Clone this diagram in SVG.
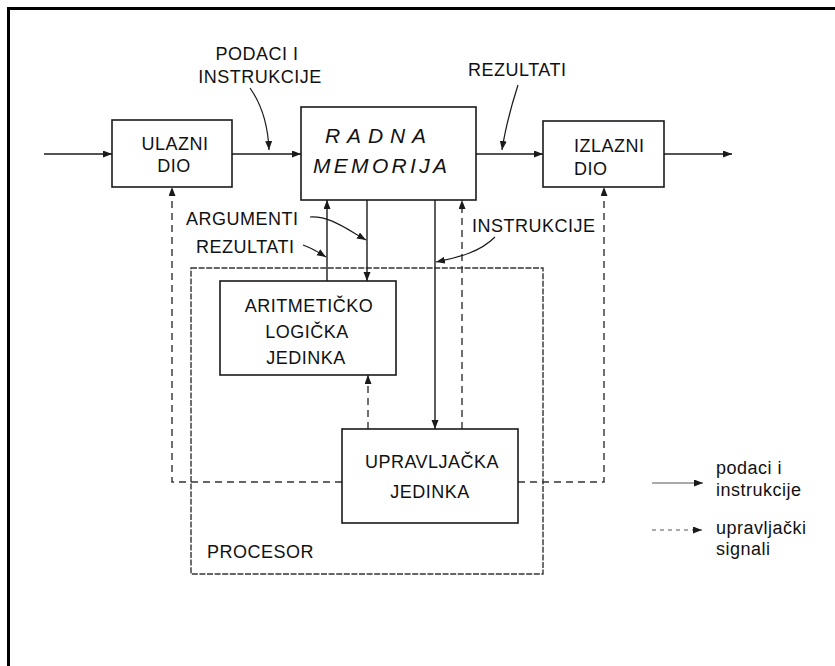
<svg xmlns="http://www.w3.org/2000/svg" width="835" height="666" viewBox="0 0 835 666">
<style>
  .box { fill: #fff; stroke: #1a1a1a; stroke-width: 1.6; }
  .proc { fill: none; stroke: #333; stroke-width: 1.4; stroke-dasharray: 6 1.6; }
  .t { font-family: "Liberation Sans", Arial, sans-serif; font-size: 18px; letter-spacing: 0.5px; fill: #111; }
  .hand { font-family: "Liberation Sans", Arial, sans-serif; font-size: 21px; font-style: italic; fill: #111; }
  .ln { fill: none; stroke: #1a1a1a; stroke-width: 1.4; }
  .dash { fill: none; stroke: #333; stroke-width: 1.4; stroke-dasharray: 7 5; }
  .lbl { fill: none; stroke: #1a1a1a; stroke-width: 1.2; }
  .leg { fill: none; stroke: #555; stroke-width: 1.1; }
</style>
<defs>
  <marker id="ah" markerUnits="userSpaceOnUse" markerWidth="10" markerHeight="8" refX="9" refY="3.5" orient="auto">
    <path d="M0,0 L9,3.5 L0,7 z" fill="#1a1a1a"/>
  </marker>
</defs>
<rect width="835" height="666" fill="#fff"/>
<path d="M8.5,666 V8.5 H835" fill="none" stroke="#000" stroke-width="3"/>

<g id="processor">
  <rect class="proc" x="191" y="268" width="352" height="306"/>
  <text class="t" x="207" y="558">PROCESOR</text>
</g>

<g id="connectors">
  <path class="ln" d="M44,154 H112" marker-end="url(#ah)"/>
  <path class="ln" d="M232,154 H301" marker-end="url(#ah)"/>
  <path class="ln" d="M476,154 H543" marker-end="url(#ah)"/>
  <path class="ln" d="M664,154 H732" marker-end="url(#ah)"/>
  <path class="ln" d="M327,281 V200" marker-end="url(#ah)"/>
  <path class="ln" d="M367,200 V281" marker-end="url(#ah)"/>
  <path class="ln" d="M435,200 V429" marker-end="url(#ah)"/>
  <path class="dash" d="M462,429 V200" marker-end="url(#ah)"/>
  <path class="dash" d="M368,429 V375" marker-end="url(#ah)"/>
  <path class="dash" d="M342,482 H172 V187" marker-end="url(#ah)"/>
  <path class="dash" d="M518,482 H604 V187" marker-end="url(#ah)"/>
  <path class="lbl" d="M250,88 C262,105 268,125 269,150" marker-end="url(#ah)"/>
  <path class="lbl" d="M518,85 C510,110 505,130 502,150" marker-end="url(#ah)"/>
  <path class="lbl" d="M310,217 C330,216 345,228 366,240" marker-end="url(#ah)"/>
  <path class="lbl" d="M303,245 C312,248 318,252 326,257" marker-end="url(#ah)"/>
  <path class="lbl" d="M495,237 C480,252 460,257 436,262" marker-end="url(#ah)"/>
</g>

<g id="ulazni">
  <rect class="box" x="112" y="120" width="120" height="67"/>
  <text class="t" x="175" y="150" text-anchor="middle">ULAZNI</text>
  <text class="t" x="174" y="172" text-anchor="middle">DIO</text>
</g>
<g id="radna">
  <rect class="box" x="301" y="107" width="175" height="93"/>
  <text class="hand" x="325" y="143" textLength="101" lengthAdjust="spacing">RADNA</text>
  <text class="hand" x="313" y="173" textLength="134" lengthAdjust="spacing">MEMORIJA</text>
</g>
<g id="izlazni">
  <rect class="box" x="543" y="121" width="121" height="66"/>
  <text class="t" x="574" y="152">IZLAZNI</text>
  <text class="t" x="574" y="175">DIO</text>
</g>
<g id="alu">
  <rect class="box" x="220" y="281" width="176" height="94"/>
  <text class="t" x="309" y="312" text-anchor="middle">ARITMETIČKO</text>
  <text class="t" x="307" y="338" text-anchor="middle">LOGIČKA</text>
  <text class="t" x="306" y="364" text-anchor="middle">JEDINKA</text>
</g>
<g id="upravljacka">
  <rect class="box" x="342" y="429" width="176" height="94"/>
  <text class="t" x="432" y="468" text-anchor="middle">UPRAVLJAČKA</text>
  <text class="t" x="430" y="498" text-anchor="middle">JEDINKA</text>
</g>

<g id="labels">
  <text class="t" x="257" y="60" text-anchor="middle">PODACI I</text>
  <text class="t" x="260" y="83" text-anchor="middle">INSTRUKCIJE</text>
  <text class="t" x="468" y="76">REZULTATI</text>
  <text class="t" x="186" y="225">ARGUMENTI</text>
  <text class="t" x="196" y="253">REZULTATI</text>
  <text class="t" x="472" y="232">INSTRUKCIJE</text>
</g>

<g id="legend">
  <path class="leg" d="M652,483 H703" marker-end="url(#ah)"/>
  <path class="leg" d="M652,530 H702" stroke-dasharray="4 4" marker-end="url(#ah)"/>
  <text class="t" x="716" y="474">podaci i</text>
  <text class="t" x="716" y="496">instrukcije</text>
  <text class="t" x="716" y="534">upravljački</text>
  <text class="t" x="716" y="555">signali</text>
</g>
</svg>
